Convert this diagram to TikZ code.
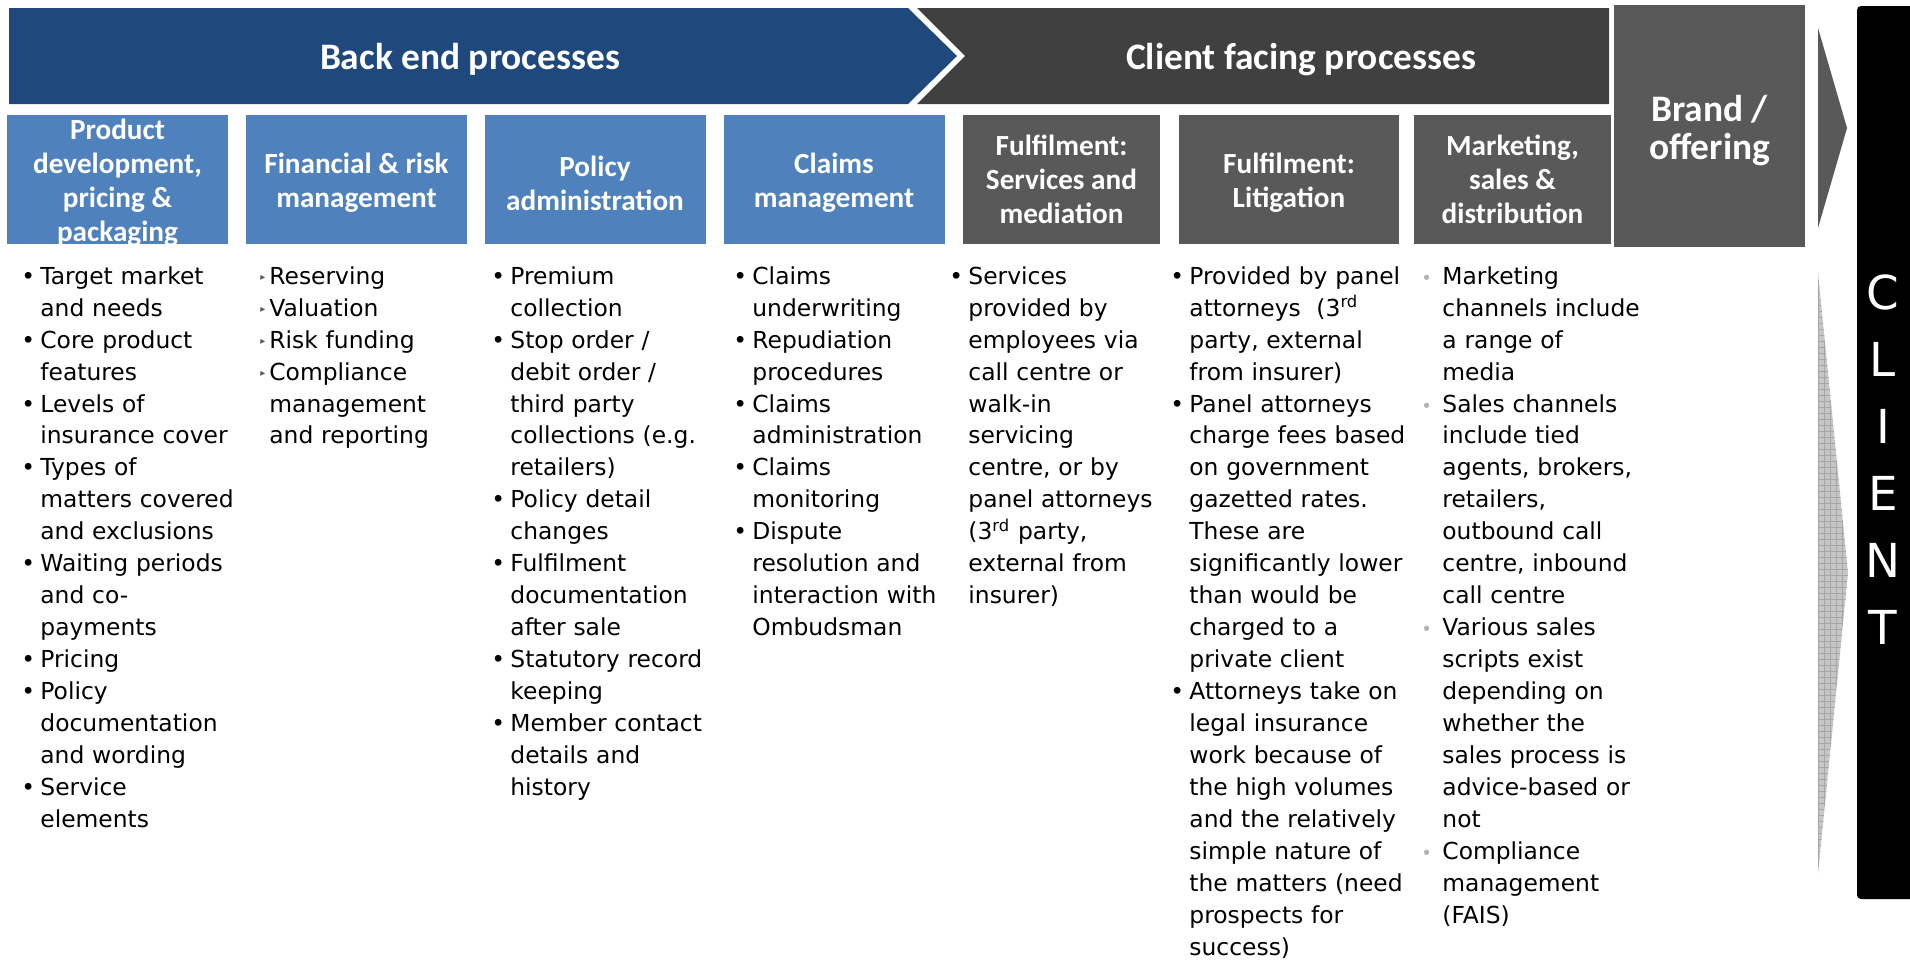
\documentclass[tikz,border=0pt]{standalone}
\usepackage{fontspec}
\newfontfamily\headfont{Carlito}
\newfontfamily\bodyfont{DejaVu Sans}
\usetikzlibrary{patterns}
\definecolor{backblue}{HTML}{1F497D}
\definecolor{boxblue}{HTML}{4F81BD}
\definecolor{frontgrey}{HTML}{404040}
\definecolor{boxgrey}{HTML}{595959}
% bullets and hanging indent for the lists
\newcommand\itm{\makebox[9.5pt][l]{\textbullet}}
\newcommand\itmarrow{\makebox[9.5pt][l]{\hspace{5pt}\raisebox{2pt}{\color{boxgrey}\fontsize{5}{5}\selectfont ▸}}}
\newcommand\itmdot{\makebox[9.5pt][l]{\hspace{-1pt}{\color{gray!60}\fontsize{9}{9}\selectfont\textbullet}}}
\newcommand\ind{\hspace*{9.5pt}}

\begin{document}
\begin{tikzpicture}[
				x=0.5pt, y=-0.5pt,
				title/.style={text=white, font=\headfont\bfseries\fontsize{18.7}{19}\selectfont, align=center},
				bluebox/.style={fill=boxblue, minimum width=110.5pt, minimum height=64.5pt, inner sep=0pt},
				greybox/.style={fill=boxgrey, minimum height=64.5pt, inner sep=0pt},
				head/.style={text=white, font=\headfont\bfseries\fontsize{14.6}{17}\selectfont, align=center, yshift=-1.75pt},
				body/.style={anchor=north west, inner sep=0pt, text width=130pt, align=left, font=\bodyfont\fontsize{11.7}{15.98}\selectfont}
			]
				\useasboundingbox (0,0) rectangle (1910,959);
				% top banners
				\fill[frontgrey] (917,8) -- (1609,8) -- (1609,104) -- (917,104) -- (965,56) -- cycle;
				\fill[backblue] (9,8) -- (908,8) -- (957,56) -- (908,104) -- (9,104) -- cycle;
				\node [title] (back) at (470,59.5) {Back end processes};
				\node [title] (front) at (1301,59.5) {Client facing processes};
				% process boxes
				\node [bluebox] (pd) at (117.5,179.5) {};
				\node [bluebox] (fin) at (356.5,179.5) {};
				\node [bluebox] (pol) at (595,179.5) {};
				\node [bluebox] (clm) at (834,179.5) {};
				\node [greybox, minimum width=98.5pt] (svc) at (1061.5,179.5) {};
				\node [greybox, minimum width=110pt] (lit) at (1289,179.5) {};
				\node [greybox, minimum width=98.5pt] (mkt) at (1512.5,179.5) {};
				\node [head] at (pd) {Product\\development,\\pricing \&\\packaging};
				\node [head] at (fin) {Financial \& risk\\management};
				\node [head] at (pol) {Policy\\administration};
				\node [head] at (clm) {Claims\\management};
				\node [head, yshift=1.75pt] at (svc) {Fulfilment:\\Services and\\mediation};
				\node [head] at (lit) {Fulfilment:\\Litigation};
				\node [head, yshift=1.75pt] at (mkt) {Marketing,\\sales \&\\distribution};
				% brand and client
				\node [fill=boxgrey, minimum width=95.5pt, minimum height=121pt, inner sep=0pt] (brand) at (1709.5,126) {};
				\node [title, yshift=-2.5pt] at (brand) {Brand /\\offering};
				\fill[boxgrey] (1818,28) -- (1847,128) -- (1818,228) -- cycle;
				\fill[gray!45] (1818,273) -- (1848,573) -- (1818,874) -- cycle;
				\fill[pattern=grid, pattern color=gray!70] (1818,273) -- (1848,573) -- (1818,874) -- cycle;
				\fill[black, rounded corners=2pt] (1857,6) rectangle (1930,899);
				\node [text=white, align=center, font=\bodyfont\fontsize{23.4}{33.5}\selectfont] (client) at (1883,459.5) {C\\L\\I\\E\\N\\T};
				% lists under each box
				\node [body] (pdlist) at (21,266) {\itm Target market\\\ind and needs\\\itm Core product\\\ind features\\\itm Levels of\\\ind insurance cover\\\itm Types of\\\ind matters covered\\\ind and exclusions\\\itm Waiting periods\\\ind and co-\\\ind payments\\\itm Pricing\\\itm Policy\\\ind documentation\\\ind and wording\\\itm Service\\\ind elements};
				\node [body] (finlist) at (250,266) {\itmarrow Reserving\\\itmarrow Valuation\\\itmarrow Risk funding\\\itmarrow Compliance\\\ind management\\\ind and reporting};
				\node [body] (pollist) at (491,266) {\itm Premium\\\ind collection\\\itm Stop order /\\\ind debit order /\\\ind third party\\\ind collections (e.g.\\\ind retailers)\\\itm Policy detail\\\ind changes\\\itm Fulfilment\\\ind documentation\\\ind after sale\\\itm Statutory record\\\ind keeping\\\itm Member contact\\\ind details and\\\ind history};
				\node [body] (clmlist) at (733,266) {\itm Claims\\\ind underwriting\\\itm Repudiation\\\ind procedures\\\itm Claims\\\ind administration\\\itm Claims\\\ind monitoring\\\itm Dispute\\\ind resolution and\\\ind interaction with\\\ind Ombudsman};
				\node [body] (svclist) at (949,266) {\itm Services\\\ind provided by\\\ind employees via\\\ind call centre or\\\ind walk-in\\\ind servicing\\\ind centre, or by\\\ind panel attorneys\\\ind (3\textsuperscript{rd} party,\\\ind external from\\\ind insurer)};
				\node [body] (litlist) at (1170,266) {\itm Provided by panel\\\ind attorneys~ (3\textsuperscript{rd}\\\ind party, external\\\ind from insurer)\\\itm Panel attorneys\\\ind charge fees based\\\ind on government\\\ind gazetted rates.\\\ind These are\\\ind significantly lower\\\ind than would be\\\ind charged to a\\\ind private client\\\itm Attorneys take on\\\ind legal insurance\\\ind work because of\\\ind the high volumes\\\ind and the relatively\\\ind simple nature of\\\ind the matters (need\\\ind prospects for\\\ind success)};
				\node [body] (mktlist) at (1423,266) {\itmdot Marketing\\\ind channels include\\\ind a range of\\\ind media\\\itmdot Sales channels\\\ind include tied\\\ind agents, brokers,\\\ind retailers,\\\ind outbound call\\\ind centre, inbound\\\ind call centre\\\itmdot Various sales\\\ind scripts exist\\\ind depending on\\\ind whether the\\\ind sales process is\\\ind advice-based or\\\ind not\\\itmdot Compliance\\\ind management\\\ind (FAIS)};
			\end{tikzpicture}
\end{document}
